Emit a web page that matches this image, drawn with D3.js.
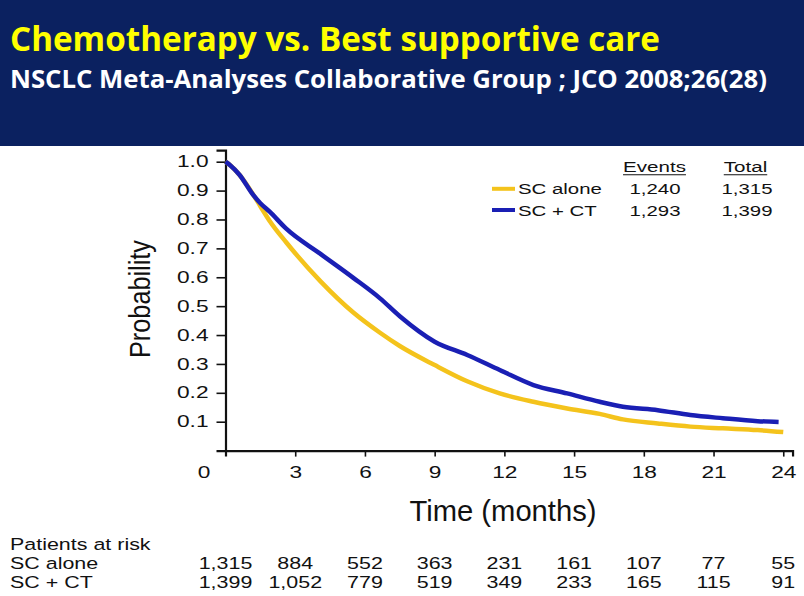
<!DOCTYPE html>
<html><head><meta charset="utf-8">
<script src="https://cdn.jsdelivr.net/npm/d3@7"></script>
<style>
html,body{margin:0;padding:0;background:#fff;}
svg{display:block;}
</style></head>
<body>
<svg id="chart" width="804" height="596"></svg>
<script>
// ---- data ----
const titleText = "Chemotherapy vs. Best supportive care";
const subtitleText = "NSCLC  Meta-Analyses Collaborative Group ; JCO 2008;26(28)";
const seriesNames = ["SC alone", "SC + CT"];
const seriesEvents = [1240, 1293];
const seriesTotals = [1315, 1399];
const timesSC = [0, 0.2, 0.6, 1.2, 1.5, 1.9, 2.6, 4.1, 5.5, 6.65, 7.5, 9.0, 10.4, 11.8, 13.25, 14.7, 16.1, 17.1, 18.6, 20.0, 21.4, 22.9, 24.0];
const probSC  = [1.0, 0.988, 0.955, 0.885, 0.846, 0.795, 0.722, 0.585, 0.478, 0.408, 0.362, 0.296, 0.240, 0.198, 0.169, 0.146, 0.127, 0.108, 0.094, 0.083, 0.077, 0.071, 0.064];
const timesCT = [0, 0.2, 0.6, 1.2, 1.5, 1.9, 2.6, 4.1, 5.5, 6.65, 7.5, 9.0, 10.4, 11.8, 13.25, 14.7, 16.1, 17.1, 18.6, 20.0, 21.4, 22.9, 23.8];
const probCT  = [1.0, 0.988, 0.955, 0.884, 0.856, 0.827, 0.769, 0.680, 0.598, 0.527, 0.465, 0.377, 0.331, 0.279, 0.227, 0.198, 0.169, 0.152, 0.140, 0.123, 0.112, 0.102, 0.099];
const xTickValues = [0, 3, 6, 9, 12, 15, 18, 21, 24];
const yTickValues = [0.1, 0.2, 0.3, 0.4, 0.5, 0.6, 0.7, 0.8, 0.9, 1.0];
const atRiskTitle = "Patients at risk";
const atRiskSC = [1315, 884, 552, 363, 231, 161, 107, 77, 55];
const atRiskCT = [1399, 1052, 779, 519, 349, 233, 165, 115, 91];
const xLabel = "Time (months)";
const yLabel = "Probability";

// ---- styles ----
const colors = ["#f4c31c", "#1a1fb4"];
const navy = "#0b2160";
const helv = "'Liberation Sans', Arial, Helvetica, sans-serif";
const narrow = "'Liberation Sans Narrow', 'Arial Narrow', 'Liberation Sans', sans-serif";

const svg = d3.select("#chart");

// header
svg.append("rect").attr("x", 0).attr("y", 0).attr("width", 804).attr("height", 146).attr("fill", navy);
svg.append("text").attr("x", 10).attr("y", 51)
  .attr("font-family", "'Open Sans', 'Noto Sans', sans-serif").attr("font-weight", 700)
  .attr("font-size", 34).attr("fill", "#ffff00")
  .attr("textLength", 650).attr("lengthAdjust", "spacingAndGlyphs").text(titleText);
svg.append("text").attr("x", 10).attr("y", 88)
  .attr("font-family", "'Open Sans', 'Noto Sans', sans-serif").attr("font-weight", 700)
  .attr("font-size", 25).attr("fill", "#ffffff")
  .attr("textLength", 757).attr("lengthAdjust", "spacingAndGlyphs").text(subtitleText);

// scales
const x = d3.scaleLinear().domain([0, 24.4]).range([225.5, 225.5 + 24.4 * 23.24]);
const y = d3.scaleLinear().domain([0, 1.04]).range([450.6, 450.6 - 1.04 * 288.9]);

const g = svg.append("g");
const kx = 1.42;

// y axis
const yAxis = d3.axisLeft(y).tickValues(yTickValues).tickFormat(d3.format(".1f")).tickSize(9).tickPadding(8);
const gy = g.append("g").attr("transform", `translate(${x(0)},0)`).call(yAxis);
gy.select(".domain").attr("stroke", "#111").attr("stroke-width", 2.2);
gy.selectAll(".tick line").attr("stroke", "#111").attr("stroke-width", 1.6);
gy.selectAll(".tick text").attr("font-family", helv).attr("font-size", 16).attr("fill", "#111")
  .attr("x", -17 / kx).attr("transform", `scale(${kx},1)`);

// x axis
const xAxis = d3.axisBottom(x).tickValues(xTickValues).tickFormat(d3.format("d")).tickSize(6).tickPadding(10);
const gx = g.append("g").attr("transform", `translate(0,${y(0)})`).call(xAxis);
gx.select(".domain").attr("stroke", "#111").attr("stroke-width", 2.2);
gx.selectAll(".tick line").attr("stroke", "#111").attr("stroke-width", 1.6);
gx.selectAll(".tick text").attr("font-family", helv).attr("font-size", 16).attr("fill", "#111")
  .attr("transform", `scale(${kx},1)`);
gx.selectAll(".tick").filter(d => d === 0).each(function() {
  d3.select(this).select("line").remove();
  d3.select(this).select("text").attr("x", -22 / kx);
});

// axis titles
g.append("text").attr("transform", `translate(150,${(240 + 358) / 2}) rotate(-90)`)
  .attr("text-anchor", "middle").attr("font-family", narrow).attr("font-size", 30).attr("fill", "#111")
  .attr("textLength", 118).attr("lengthAdjust", "spacingAndGlyphs").text(yLabel);
g.append("text").attr("x", 503).attr("y", 521)
  .attr("text-anchor", "middle").attr("font-family", narrow).attr("font-size", 29).attr("fill", "#111")
  .attr("textLength", 187).attr("lengthAdjust", "spacingAndGlyphs").text(xLabel);

// curves
const line = d3.line().x(d => x(d[0])).y(d => y(d[1])).curve(d3.curveMonotoneX);
const seriesData = [timesSC.map((t, i) => [t, probSC[i]]), timesCT.map((t, i) => [t, probCT[i]])];
g.selectAll("path.km").data(seriesData).join("path").attr("class", "km")
  .attr("d", line).attr("fill", "none").attr("stroke", (d, i) => colors[i])
  .attr("stroke-width", 4.5).attr("stroke-linejoin", "round").attr("stroke-linecap", "butt");

// legend
const fmt = d3.format(",");
const legRowY = [194.3, 215.5];
const lg = g.append("g");
function stretchedText(parent, tx, ty, txt, size, k, anchor, family) {
  return parent.append("text").attr("transform", `translate(${tx},${ty}) scale(${k},1)`)
    .attr("text-anchor", anchor || "start").attr("font-family", family || helv).attr("font-size", size)
    .attr("fill", "#111").text(txt);
}
const hdrY = 172.3;
[["Events", 654.5], ["Total", 745.5]].forEach(([txt, cx]) => {
  const t = stretchedText(lg, cx, hdrY, txt, 14.5, 1.42, "middle");
  const w = t.node().getComputedTextLength() * 1.42;
  lg.append("line").attr("x1", cx - w / 2).attr("x2", cx + w / 2).attr("y1", hdrY + 2.5).attr("y2", hdrY + 2.5)
    .attr("stroke", "#111").attr("stroke-width", 1.1);
});
seriesNames.forEach((name, i) => {
  const yy = legRowY[i];
  lg.append("line").attr("x1", 492).attr("x2", 515).attr("y1", yy - 5.5).attr("y2", yy - 5.5)
    .attr("stroke", colors[i]).attr("stroke-width", 4);
  stretchedText(lg, 518, yy, name, 15, 1.36, "start");
  stretchedText(lg, 655, yy, fmt(seriesEvents[i]), 15, 1.36, "middle");
  stretchedText(lg, 747, yy, fmt(seriesTotals[i]), 15, 1.36, "middle");
});

// at-risk table
const tk = 1.3;
const tbl = g.append("g");
stretchedText(tbl, 10, 550, atRiskTitle, 16.5, tk, "start", narrow);
[[seriesNames[0], atRiskSC, 569], [seriesNames[1], atRiskCT, 587.5]].forEach(([name, vals, yy]) => {
  stretchedText(tbl, 10, yy, name, 16.5, tk, "start", narrow);
  vals.forEach((v, j) => {
    stretchedText(tbl, x(xTickValues[j]), yy, fmt(v), 16.5, tk, "middle", narrow);
  });
});
</script>
</body></html>
